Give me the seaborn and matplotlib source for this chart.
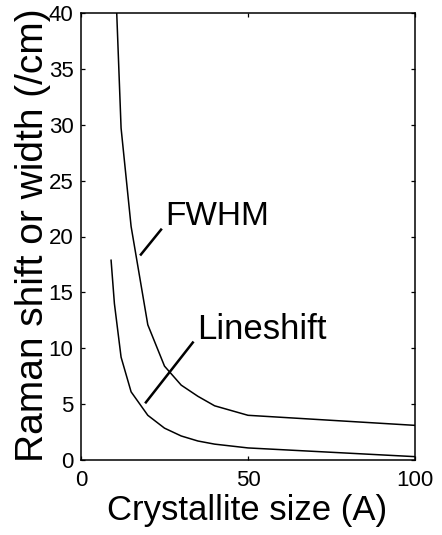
import matplotlib
matplotlib.use("Agg")
import matplotlib.pyplot as plt
import numpy as np
import pandas as pd
import seaborn as sns

# Crystallite size (A) and Raman parameters (/cm)
fwhm_size = [10, 12, 15, 20, 25, 30, 35, 40, 50, 100]
fwhm_vals = [45.5, 29.7, 20.9, 12.1, 8.4, 6.7, 5.7, 4.85, 4.0, 3.1]

shift_size = [9, 10, 12, 15, 20, 25, 30, 35, 40, 50, 100]
shift_vals = [17.9, 14.0, 9.2, 6.1, 4.0, 2.85, 2.15, 1.7, 1.42, 1.08, 0.3]

x_ticks = [0, 50, 100]
y_ticks = [0, 5, 10, 15, 20, 25, 30, 35, 40]

# Curve labels: text anchor and leader line end points (data units)
labels = ["FWHM", "Lineshift"]
label_pos = [(25.2, 21.0), (34.7, 10.8)]
leader_x = [(17.7, 24.2), (19.2, 33.7)]
leader_y = [(18.3, 20.7), (5.07, 10.6)]
label_size = [24, 25]

sns.set_style("ticks")
plt.rcParams["font.family"] = ["Liberation Sans", "DejaVu Sans"]
plt.rcParams.update({"text.color": "black", "axes.labelcolor": "black",
                     "xtick.color": "black", "ytick.color": "black"})

df = pd.concat([
    pd.DataFrame({"size": fwhm_size, "value": fwhm_vals, "series": "FWHM"}),
    pd.DataFrame({"size": shift_size, "value": shift_vals, "series": "Lineshift"}),
])

fig = plt.figure(figsize=(4.42, 5.35), dpi=100)
ax = fig.add_axes([81 / 442, 1 - 460 / 535, 334 / 442, 447 / 535])

sns.lineplot(data=df, x="size", y="value", hue="series",
             palette={"FWHM": "black", "Lineshift": "black"},
             linewidth=1.1, legend=False, ax=ax, sort=False, estimator=None)

ax.set_xlim(0, 100)
ax.set_ylim(0, 40)
ax.set_xticks(x_ticks)
ax.set_yticks(y_ticks)
ax.tick_params(direction="in", length=3, width=0.9, top=True, right=True,
               labelsize=16, colors="black")
ax.tick_params(axis="x", pad=7)
ax.tick_params(axis="y", pad=5.5)
for s in ax.spines.values():
    s.set_linewidth(1.1)
    s.set_color("black")

ax.set_xlabel("Crystallite size (A)", fontsize=25)
ax.set_ylabel("Raman shift or width (/cm)", fontsize=28)
ax.xaxis.set_label_coords(0.4985, -0.075)
ax.yaxis.set_label_coords(-0.09, 0.502)

for text, pos, lx, ly, fs in zip(labels, label_pos, leader_x, leader_y, label_size):
    ax.plot(lx, ly, color="black", lw=1.8, solid_capstyle="butt")
    ax.text(pos[0], pos[1], text, fontsize=fs, ha="left", va="baseline")

fig.savefig("out.png", dpi=100)
